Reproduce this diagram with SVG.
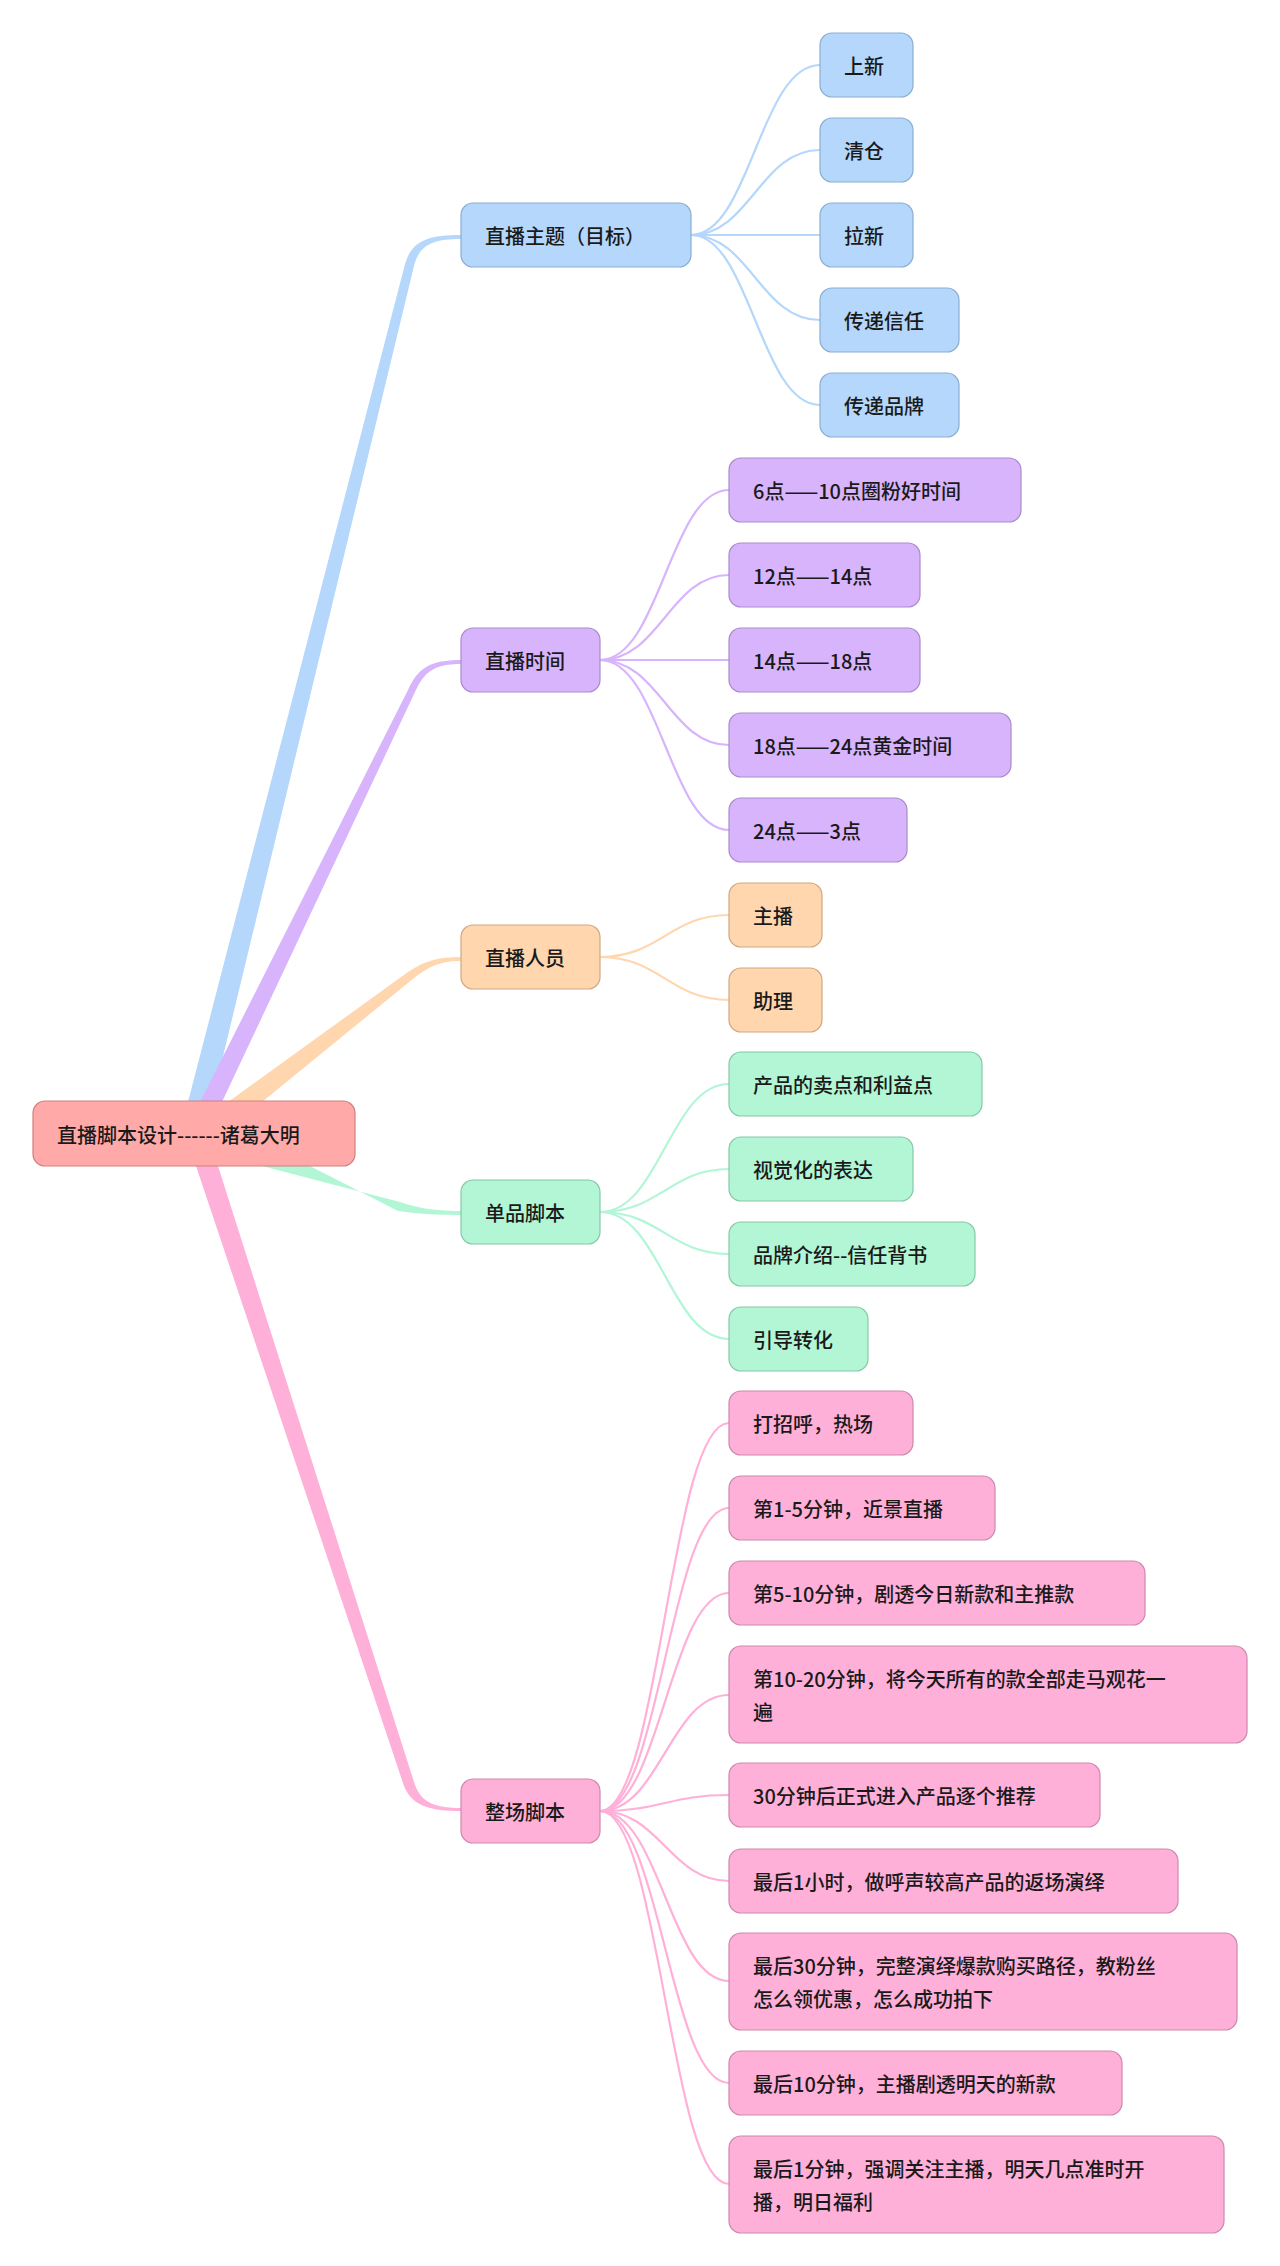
<svg xmlns="http://www.w3.org/2000/svg" width="1280" height="2266" viewBox="0 0 1280 2266">
<style>
text{font-family:"Noto Sans CJK SC","Liberation Sans",sans-serif;font-size:20px;font-weight:500;fill:#1a1a1a;dominant-baseline:central}
rect{rx:12;ry:12;stroke-width:1.2}
.b rect{fill:#b4d7fb;stroke:#8aaed2}.p rect{fill:#d8b4fc;stroke:#a98bcb}.o rect{fill:#ffd6ae;stroke:#cfa881}
.g rect{fill:#b2f6d6;stroke:#86c8a8}.k rect{fill:#ffb0d8;stroke:#cf88ad}.r rect{fill:#ffaaa8;stroke:#cf807e}
.lb{stroke:#b4d7fb}.lp{stroke:#d8b4fc}.lo{stroke:#ffd6ae}.lg{stroke:#b2f6d6}.lk{stroke:#ffb0d8}
#connectors path.c{fill:none;stroke-width:2.2}
</style>
<g id="connectors">
<path fill="#b4d7fb" d="M188,1102 L404,268 C410,242 425,235 461,235 L461,239 C430,239 418,246 413,270 L212,1102 Z"/>
<path fill="#d8b4fc" d="M200,1102 L408,690 C418,668 430,660 461,660 L461,664 C434,664 424,672 415,692 L222,1102 Z"/>
<path fill="#ffd6ae" d="M228,1102 L408,972 C426,960 440,957 461,957 L461,961 C444,961 432,964 414,978 L262,1102 Z"/>
<path fill="#b2f6d6" d="M262,1166 L400,1202 C420,1209 440,1211 461,1211 L461,1215 C440,1215 420,1214 398,1211 L310,1166 Z"/>
<path fill="#ffb0d8" d="M196,1166 L404,1786 C412,1806 430,1811 461,1811 L461,1808 C434,1808 420,1802 414,1782 L218,1166 Z"/>
<g class="lb">
<path class="c" d="M691,235 C750,235 760,65 820,65"/><path class="c" d="M691,235 C750,235 760,150 820,150"/><path class="c" d="M691,235 L820,235"/><path class="c" d="M691,235 C750,235 760,320 820,320"/><path class="c" d="M691,235 C750,235 760,405 820,405"/>
</g>
<g class="lp">
<path class="c" d="M600,660 C660,660 670,490 729,490"/><path class="c" d="M600,660 C660,660 670,575 729,575"/><path class="c" d="M600,660 L729,660"/><path class="c" d="M600,660 C660,660 670,745 729,745"/><path class="c" d="M600,660 C660,660 670,830 729,830"/>
</g>
<g class="lo">
<path class="c" d="M600,957 C660,957 670,915 729,915"/><path class="c" d="M600,957 C660,957 670,1000 729,1000"/>
</g>
<g class="lg">
<path class="c" d="M600,1212 C660,1212 670,1084 729,1084"/><path class="c" d="M600,1212 C660,1212 670,1169 729,1169"/><path class="c" d="M600,1212 C660,1212 670,1254 729,1254"/><path class="c" d="M600,1212 C660,1212 670,1339 729,1339"/>
</g>
<g class="lk">
<path class="c" d="M600,1811 C660,1811 670,1423 729,1423"/><path class="c" d="M600,1811 C660,1811 670,1508 729,1508"/><path class="c" d="M600,1811 C660,1811 670,1593 729,1593"/><path class="c" d="M600,1811 C660,1811 670,1695 729,1695"/><path class="c" d="M600,1811 C660,1811 670,1795 729,1795"/><path class="c" d="M600,1811 C660,1811 670,1881 729,1881"/><path class="c" d="M600,1811 C660,1811 670,1981 729,1981"/><path class="c" d="M600,1811 C660,1811 670,2083 729,2083"/><path class="c" d="M600,1811 C660,1811 670,2184 729,2184"/>
</g>
</g>
<g id="root" class="r"><rect x="33" y="1101" width="322" height="65"/><text x="57" y="1134">直播脚本设计------诸葛大明</text></g>
<g id="n1" class="b"><rect x="461" y="203" width="230" height="64"/><text x="485" y="235">直播主题（目标）</text></g>
<g id="n1a" class="b"><rect x="820" y="33" width="93" height="64"/><text x="844" y="65">上新</text></g>
<g id="n1b" class="b"><rect x="820" y="118" width="93" height="64"/><text x="844" y="150">清仓</text></g>
<g id="n1c" class="b"><rect x="820" y="203" width="93" height="64"/><text x="844" y="235">拉新</text></g>
<g id="n1d" class="b"><rect x="820" y="288" width="139" height="64"/><text x="844" y="320">传递信任</text></g>
<g id="n1e" class="b"><rect x="820" y="373" width="139" height="64"/><text x="844" y="405">传递品牌</text></g>
<g id="n2" class="p"><rect x="461" y="628" width="139" height="64"/><text x="485" y="660">直播时间</text></g>
<g id="n2a" class="p"><rect x="729" y="458" width="292" height="64"/><text x="753" y="490">6点——10点圈粉好时间</text></g>
<g id="n2b" class="p"><rect x="729" y="543" width="191" height="64"/><text x="753" y="575">12点——14点</text></g>
<g id="n2c" class="p"><rect x="729" y="628" width="191" height="64"/><text x="753" y="660">14点——18点</text></g>
<g id="n2d" class="p"><rect x="729" y="713" width="282" height="64"/><text x="753" y="745">18点——24点黄金时间</text></g>
<g id="n2e" class="p"><rect x="729" y="798" width="178" height="64"/><text x="753" y="830">24点——3点</text></g>
<g id="n3" class="o"><rect x="461" y="925" width="139" height="64"/><text x="485" y="957">直播人员</text></g>
<g id="n3a" class="o"><rect x="729" y="883" width="93" height="64"/><text x="753" y="915">主播</text></g>
<g id="n3b" class="o"><rect x="729" y="968" width="93" height="64"/><text x="753" y="1000">助理</text></g>
<g id="n4" class="g"><rect x="461" y="1180" width="139" height="64"/><text x="485" y="1212">单品脚本</text></g>
<g id="n4a" class="g"><rect x="729" y="1052" width="253" height="64"/><text x="753" y="1084">产品的卖点和利益点</text></g>
<g id="n4b" class="g"><rect x="729" y="1137" width="184" height="64"/><text x="753" y="1169">视觉化的表达</text></g>
<g id="n4c" class="g"><rect x="729" y="1222" width="246" height="64"/><text x="753" y="1254">品牌介绍--信任背书</text></g>
<g id="n4d" class="g"><rect x="729" y="1307" width="139" height="64"/><text x="753" y="1339">引导转化</text></g>
<g id="n5" class="k"><rect x="461" y="1779" width="139" height="64"/><text x="485" y="1811">整场脚本</text></g>
<g id="n5a" class="k"><rect x="729" y="1391" width="184" height="64"/><text x="753" y="1423">打招呼，热场</text></g>
<g id="n5b" class="k"><rect x="729" y="1476" width="266" height="64"/><text x="753" y="1508">第1-5分钟，近景直播</text></g>
<g id="n5c" class="k"><rect x="729" y="1561" width="416" height="64"/><text x="753" y="1593">第5-10分钟，剧透今日新款和主推款</text></g>
<g id="n5d" class="k"><rect x="729" y="1646" width="518" height="97"/><text x="753" y="1678">第10-20分钟，将今天所有的款全部走马观花一</text><text x="753" y="1711">遍</text></g>
<g id="n5e" class="k"><rect x="729" y="1763" width="371" height="64"/><text x="753" y="1795">30分钟后正式进入产品逐个推荐</text></g>
<g id="n5f" class="k"><rect x="729" y="1849" width="449" height="64"/><text x="753" y="1881">最后1小时，做呼声较高产品的返场演绎</text></g>
<g id="n5g" class="k"><rect x="729" y="1933" width="508" height="97"/><text x="753" y="1965">最后30分钟，完整演绎爆款购买路径，教粉丝</text><text x="753" y="1998">怎么领优惠，怎么成功拍下</text></g>
<g id="n5h" class="k"><rect x="729" y="2051" width="393" height="64"/><text x="753" y="2083">最后10分钟，主播剧透明天的新款</text></g>
<g id="n5i" class="k"><rect x="729" y="2136" width="495" height="97"/><text x="753" y="2168">最后1分钟，强调关注主播，明天几点准时开</text><text x="753" y="2201">播，明日福利</text></g>
</svg>
